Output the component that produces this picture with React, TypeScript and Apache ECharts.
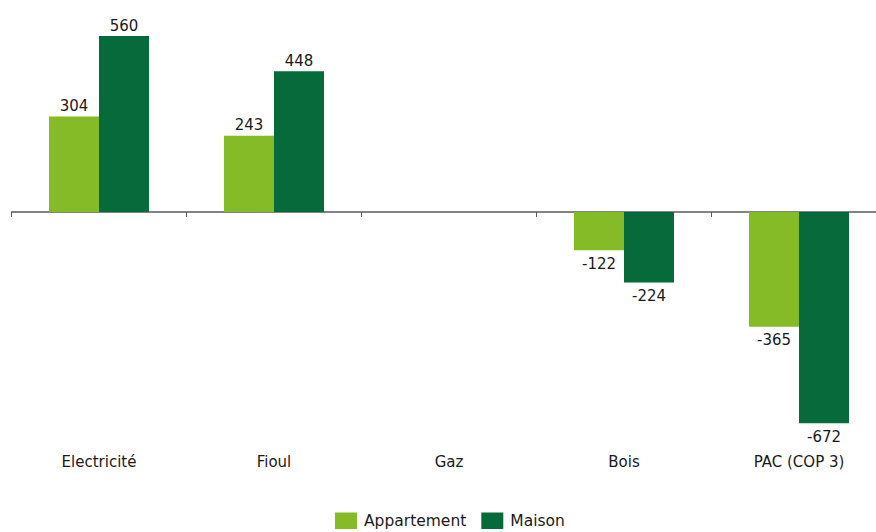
import React, { useEffect, useRef } from "react";
import * as echarts from "echarts";

const categories = ["Electricité", "Fioul", "Gaz", "Bois", "PAC (COP 3)"];
const appartement = [304, 243, 0, -122, -365];
const maison = [560, 448, 0, -224, -672];
const seriesNames = ["Appartement", "Maison"];

const FONT = "'DejaVu Sans', Verdana, sans-serif";

export default function App() {
  const ref = useRef<HTMLDivElement>(null);
  useEffect(() => {
    if (!ref.current) return;
    const chart = echarts.init(ref.current, undefined, { renderer: "svg" });
    const mkLabel = (v: number) => ({
      show: true,
      position: v < 0 ? "bottom" : "top",
      distance: v < 0 ? 6 : 3,
      color: "#1a1a1a",
      fontSize: 15,
      fontFamily: FONT,
      formatter: (p: any) => (p.value === 0 ? "" : String(p.value)),
    });
    chart.setOption({
      animation: false,
      textStyle: { fontFamily: FONT },
      grid: { left: 11.5, right: 0.5, top: 23.5, height: 408.5 },
      legend: {
        top: 512.5,
        left: 335,
        padding: 0,
        itemWidth: 22,
        itemHeight: 16.5,
        itemGap: 15,
        icon: "rect",
        textStyle: { fontSize: 15.5, color: "#1a1a1a", fontFamily: FONT, padding: [0, 0, 0, 2] },
        data: seriesNames,
      },
      xAxis: [
        {
          type: "category",
          data: categories,
          axisLine: { onZero: true, lineStyle: { color: "#5a5a5a", width: 1.5 } },
          axisTick: { show: true, length: 5, lineStyle: { color: "#5a5a5a" } },
          axisLabel: { show: false },
        },
        {
          type: "category",
          data: categories,
          position: "bottom",
          axisLine: { show: false, onZero: false },
          axisTick: { show: false },
          axisLabel: { show: true, margin: 22, fontSize: 15, color: "#1a1a1a", fontFamily: FONT },
        },
      ],
      yAxis: {
        type: "value",
        min: -700,
        max: 600,
        show: false,
        splitLine: { show: false },
      },
      series: [
        {
          name: seriesNames[0],
          type: "bar",
          data: appartement.map((v) => ({ value: v, label: mkLabel(v) })),
          barWidth: 50,
          barGap: "0%",
          itemStyle: { color: "#84bb26" },
        },
        {
          name: seriesNames[1],
          type: "bar",
          data: maison.map((v) => ({ value: v, label: mkLabel(v) })),
          barWidth: 50,
          barGap: "0%",
          itemStyle: { color: "#066a3a" },
        },
      ],
    });
    return () => chart.dispose();
  }, []);
  return (
    <div style={{ width: 876, height: 532, position: "absolute", left: 0, top: 0, overflow: "hidden" }}>
      <div ref={ref} style={{ width: 887, height: 532 }} />
    </div>
  );
}
